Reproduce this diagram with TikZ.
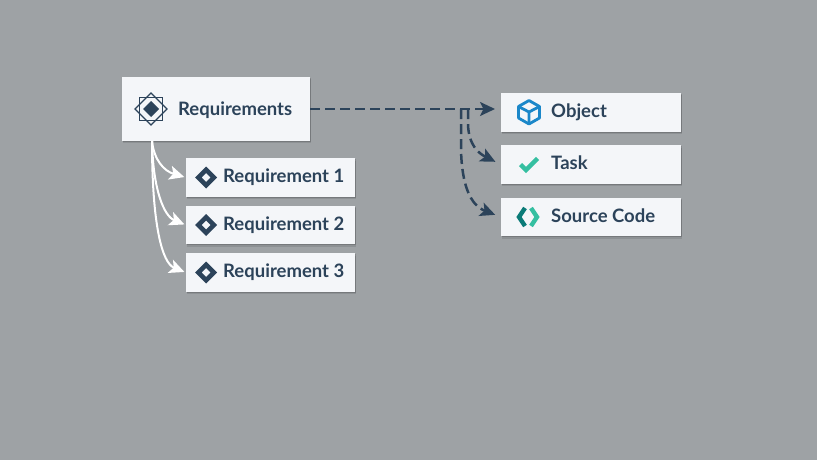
\documentclass[tikz,border=0pt]{standalone}
\usepackage{fontspec}
\setmainfont{Lato}
\usetikzlibrary{arrows.meta,shadows}
\newlength{\du}
\setlength{\du}{1pt}
\definecolor{bgcolor}{HTML}{9EA2A5}
\definecolor{boxcolor}{HTML}{F4F6F9}
\definecolor{inkcolor}{HTML}{2C435A}
\definecolor{bluecolor}{HTML}{1B87C9}
\definecolor{mintcolor}{HTML}{35BFA1}
\definecolor{tealcolor}{HTML}{0B7B78}
\tikzset{
  card/.style={fill=boxcolor,inner sep=0pt,minimum height=38.5\du,
    drop shadow={shadow xshift=1.4pt,shadow yshift=-2.4pt,opacity=.10,fill=black},
    drop shadow={shadow xshift=0.6pt,shadow yshift=-1.2pt,opacity=.16,fill=black}},
  lbl/.style={anchor=base west,inner sep=0pt,text=inkcolor,font=\fontsize{18.5}{20}\selectfont\bfseries},
  whitearrow/.style={draw=white,line width=2\du,shorten >=1.5\du,-{Stealth[length=15pt,width=14pt,inset=3.5pt]}},
  darkarrow/.style={draw=inkcolor,line width=2.5\du,dash pattern=on 10\du off 5\du,shorten >=6\du,
    -{Stealth[length=15pt,width=14pt,inset=3.5pt,fill=inkcolor]}}
}
\newcommand{\smalldiamond}[2]{%
  \fill[inkcolor,even odd rule] (#1\du-11\du,#2\du)--(#1\du,#2\du-11\du)--(#1\du+11\du,#2\du)--(#1\du,#2\du+11\du)--cycle
    (#1\du-4.5\du,#2\du)--(#1\du,#2\du-4.5\du)--(#1\du+4.5\du,#2\du)--(#1\du,#2\du+4.5\du)--cycle;}

\begin{document}
\begin{tikzpicture}
\pgftransformxscale{1.000000}
\pgftransformyscale{-1.000000}
\useasboundingbox (0\du,0\du) rectangle (817\du,460\du);
\fill[bgcolor] (0\du,0\du) rectangle (817\du,460\du);

% left side
\node[card,minimum width=188\du,minimum height=64\du] (requirements) at (216\du,109\du) {};
\node[card,minimum width=169\du] (req1) at (270.5\du,177.5\du) {};
\node[card,minimum width=169\du] (req2) at (270.5\du,225\du) {};
\node[card,minimum width=169\du] (req3) at (270.5\du,272.5\du) {};

% right side
\node[card,minimum width=180\du] (object) at (591\du,112.3\du) {};
\node[card,minimum width=180\du] (task) at (591\du,164.5\du) {};
\node[card,minimum width=180\du] (source) at (591\du,217\du) {};

\node[lbl] (reqlbl) at (178\du,115\du) {Requirements};
\node[lbl] (req1lbl) at (223\du,182\du) {Requirement 1};
\node[lbl] (req2lbl) at (223\du,230\du) {Requirement 2};
\node[lbl] (req3lbl) at (223\du,277\du) {Requirement 3};
\node[lbl] (objlbl) at (551\du,117.5\du) {Object};
\node[lbl] (tasklbl) at (551\du,169\du) {Task};
\node[lbl] (srclbl) at (551\du,222\du) {Source Code};

% icons
\draw[inkcolor,line width=1.2\du] (139.5\du,97.5\du) rectangle (162.5\du,120.5\du);
\draw[inkcolor,line width=1.2\du] (135\du,109\du)--(151\du,93\du)--(167\du,109\du)--(151\du,125\du)--cycle;
\fill[inkcolor] (143\du,109\du)--(151\du,101\du)--(159\du,109\du)--(151\du,117\du)--cycle;
\smalldiamond{206}{177.5}
\smalldiamond{206}{225}
\smalldiamond{206}{272.5}
\draw[bluecolor,line width=2.8\du,line join=round] (529\du,100.5\du)--(539.5\du,106.5\du)--(539.5\du,118\du)--(529\du,124\du)--(518.5\du,118\du)--(518.5\du,106.5\du)--cycle;
\draw[bluecolor,line width=2.8\du,line join=round] (518.5\du,106.5\du)--(529\du,112\du)--(539.5\du,106.5\du) (529\du,112\du)--(529\du,124\du);
\draw[mintcolor,line width=4.4\du] (520.5\du,164.5\du)--(526\du,170\du)--(537.5\du,158.5\du);
\draw[tealcolor,line width=4.4\du] (525\du,208\du)--(519\du,217\du)--(525\du,226\du);
\draw[mintcolor,line width=4.4\du] (531\du,208\du)--(537\du,217\du)--(531\du,226\du);

% connectors
\coordinate (reqfoot) at (152\du,141\du);
\coordinate (branchA) at (468\du,109\du);
\coordinate (branchB) at (461\du,109\du);
\coordinate (objentry) at (501\du,109\du);
\draw[whitearrow] (reqfoot) .. controls (154\du,160\du) and (164\du,171\du) .. (req1.west);
\draw[whitearrow] (reqfoot) .. controls (153\du,190\du) and (164\du,216\du) .. (req2.west);
\draw[whitearrow] (reqfoot) .. controls (152\du,225\du) and (162\du,263\du) .. (req3.west);
\draw[darkarrow] (requirements.east) -- (objentry);
\draw[darkarrow] (branchA) -- (468\du,125\du) .. controls (469\du,145\du) and (478\du,153\du) .. (task.west);
\draw[darkarrow] (branchB) -- (461\du,150\du) .. controls (462\du,185\du) and (470\du,205\du) .. (source.west);
\end{tikzpicture}
\end{document}
